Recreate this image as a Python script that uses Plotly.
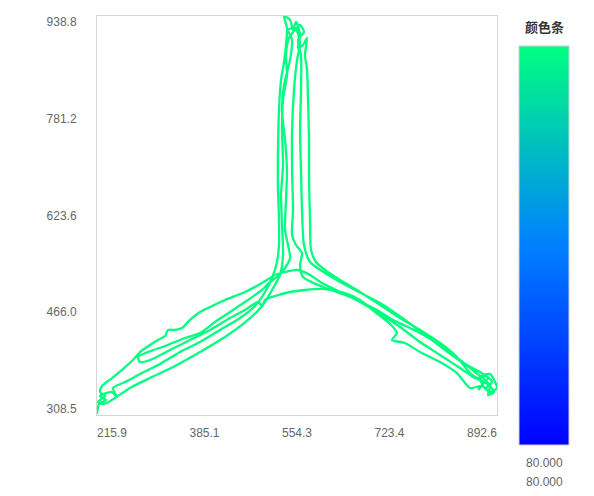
import plotly.graph_objects as go

# Trajectory (data units)
track_x = [
    215.9, 219.3, 231.1, 221.0, 241.3, 249.7, 243.0, 263.3, 288.7, 322.5, 356.3, 390.2, 424.0, 457.9, 483.2, 500.2,
    512.0, 520.4, 523.8, 523.8, 522.1, 522.1, 523.8, 527.2, 532.3, 535.6, 537.3, 532.3, 542.5, 547.5, 552.6, 559.4,
    556.0, 564.4, 571.2, 567.8,
    571.2, 572.9, 574.6, 574.6, 576.3, 578.0, 586.4, 601.7, 627.1, 660.9, 694.7, 728.6, 762.4, 796.3, 824.9, 847.0,
    860.5, 874.0, 884.1, 872.3, 863.9, 880.9, 887.6, 892.6,
    880.9, 867.2, 847.0, 824.9, 796.3, 762.4, 737.0, 715.0, 723.4, 711.7, 686.2, 660.9, 635.5, 601.7, 567.8, 542.5,
    517.1, 500.2, 495.0, 488.3, 466.3, 440.9, 407.1, 373.3, 339.4, 305.6, 288.7, 285.3, 302.2, 331.0, 364.8, 390.2,
    415.6, 440.9, 466.3, 495.0, 508.6, 522.1, 534.0, 542.5, 539.1, 534.0, 535.6, 537.3, 534.0, 528.9, 532.3, 542.5,
    545.9, 539.1,
    550.9, 559.4, 554.3, 549.2, 545.9, 545.9, 547.5, 545.9, 552.6, 562.7, 559.4, 564.4, 598.2, 644.0, 689.6, 716.7,
    745.5, 762.4, 796.3, 830.1, 855.4, 872.3, 880.9, 877.4, 887.6,
    874.0, 855.4, 830.1, 796.3, 762.4, 728.6, 694.7, 660.9, 627.1, 596.5, 576.3, 555.9, 534.0, 517.1, 495.0, 466.3,
    432.5, 407.1, 390.2, 373.3, 359.7, 347.9, 336.0, 331.0, 319.1, 305.6, 288.7, 276.8, 261.6, 241.3, 224.4, 221.0,
    229.4, 217.6,
    227.7, 246.4, 271.7, 305.6, 347.9, 390.2, 432.5, 471.4, 496.7, 512.0, 525.5, 530.6, 528.9, 527.2, 530.6, 528.9,
    530.6, 537.3, 535.6, 540.7, 550.9, 559.4, 566.1, 556.0, 561.0, 561.0, 559.4, 561.0, 562.7, 566.1, 576.3, 610.1,
    652.4, 694.7, 737.0, 770.8, 804.6, 838.5, 863.9, 877.4, 868.9, 860.5,
]
track_y = [
    310.0, 325.9, 332.2, 338.5, 344.8, 336.9, 351.2, 360.6, 373.3, 389.1, 408.0, 423.8, 442.8, 461.7, 480.7, 502.8,
    524.9, 550.2, 577.0, 616.6, 664.0, 727.2, 790.4, 837.8, 866.1, 893.0, 919.8, 938.8, 932.6, 916.8, 929.3, 908.8,
    888.3, 893.0, 904.1, 877.2,
    853.6, 806.2, 743.0, 679.8, 616.6, 569.2, 550.2, 537.6, 521.8, 502.8, 482.3, 461.7, 442.8, 422.2, 400.1, 374.8,
    366.9, 370.1, 360.6, 351.2, 368.5, 373.3, 363.8, 351.2,
    344.8, 354.3, 351.2, 374.8, 392.2, 408.0, 422.2, 427.0, 438.0, 452.3, 471.2, 490.2, 501.2, 507.5, 506.0, 502.8,
    496.5, 490.2, 480.7, 487.0, 474.4, 461.7, 442.8, 427.0, 411.2, 395.4, 392.2, 400.1, 408.0, 417.5, 430.1, 438.0,
    455.4, 471.2, 487.0, 506.0, 518.6, 528.1, 540.7, 556.5, 577.0, 600.8, 648.2, 695.6, 743.0, 790.4, 829.8, 869.4,
    901.0, 916.8,
    919.8, 897.7, 869.4, 822.0, 758.8, 695.6, 632.4, 592.8, 577.0, 564.4, 545.5, 526.5, 510.7, 494.9, 474.4, 458.6,
    445.9, 438.0, 419.1, 395.4, 376.4, 363.8, 354.3, 340.1, 344.8,
    359.1, 366.9, 382.7, 403.3, 423.8, 447.5, 468.0, 487.0, 502.8, 517.0, 529.7, 537.6, 534.4, 529.7, 517.0, 502.8,
    490.2, 479.1, 471.2, 458.6, 445.9, 442.8, 442.8, 433.3, 427.0, 419.1, 408.0, 395.4, 382.7, 366.9, 354.3, 344.8,
    338.5, 329.0,
    325.9, 335.4, 351.2, 366.9, 385.9, 408.0, 431.7, 458.6, 482.3, 506.0, 529.7, 561.3, 608.6, 656.0, 703.4, 758.8,
    806.2, 845.6, 877.2, 904.1, 916.8, 924.6, 913.5, 901.0, 877.2, 822.0, 758.8, 695.6, 632.4, 577.0, 550.2, 528.1,
    506.0, 485.4, 458.6, 434.9, 411.2, 389.1, 376.4, 366.9, 357.5, 348.0,
]
track_value = [80.0] * len(track_x)

x_tick_labels = ["215.9", "385.1", "554.3", "723.4", "892.6"]
y_tick_labels = ["308.5", "466.0", "623.6", "781.2", "938.8"]
colorbar_title = "颜色条"
value_min_label = "80.000"
value_max_label = "80.000"

x_min, x_max = 215.9, 892.6
y_min, y_max = 308.5, 938.8

colorscale = [[0.0, "#0000ff"], [0.5, "#0080ff"], [1.0, "#00ff80"]]
line_color = colorscale[-1][1]  # all values equal -> top colour

FONT = "Liberation Sans, Arial, Noto Sans CJK SC, sans-serif"

# page body adds an 8px offset; plot area targets (left 97, top 16, 400x399)
OFF = 8
L, T, W, H = 97 - OFF, 16 - OFF, 400, 399

fig = go.Figure()
fig.add_trace(go.Scatter(
    x=track_x, y=track_y, mode="lines",
    line=dict(color=line_color, width=2.3, shape="spline", smoothing=0.7),
    hoverinfo="skip", showlegend=False,
))
# colour bar carrier
fig.add_trace(go.Scatter(
    x=[None], y=[None], mode="markers", showlegend=False,
    marker=dict(
        color=[track_value[0]], colorscale=colorscale, cmin=79.0, cmax=81.0,
        showscale=True,
        colorbar=dict(
            x=(519 - 97) / W, xanchor="left", xpad=0,
            y=(415 - 46) / H, yanchor="top", ypad=0,
            thickness=50, thicknessmode="pixels",
            len=399, lenmode="pixels",
            outlinewidth=1, outlinecolor="#d0d0d0",
            showticklabels=False, ticks="",
        ),
    ),
))

xf = [0.0375 + 0.23125 * i for i in range(5)]
yf = [0.015 + 0.2425 * i for i in range(5)]

fig.update_xaxes(
    range=[x_min, x_max], showgrid=False, zeroline=False,
    tickvals=[x_min + f * (x_max - x_min) for f in xf], ticktext=x_tick_labels,
    ticks="", tickfont=dict(size=12, color="#666", family=FONT),
    showline=True, mirror=True, linecolor="#d6d6d6", linewidth=1,
    ticklabelstandoff=7,
)
fig.update_yaxes(
    range=[y_min, y_max], showgrid=False, zeroline=False,
    tickvals=[y_min + f * (y_max - y_min) for f in yf], ticktext=y_tick_labels,
    ticks="", tickfont=dict(size=12, color="#666", family=FONT),
    showline=True, mirror=True, linecolor="#d6d6d6", linewidth=1,
    ticklabelstandoff=17,
)

fig.add_annotation(
    text="<b>" + colorbar_title + "</b>", xref="paper", yref="paper",
    x=(544 - 97) / W, y=(415 - 27) / H, showarrow=False,
    font=dict(size=13, color="#333", family=FONT), xanchor="center", yanchor="middle",
)
fig.add_annotation(
    text=value_min_label, xref="paper", yref="paper",
    x=(544 - 97) / W, y=(415 - 463) / H, showarrow=False,
    font=dict(size=12, color="#666", family=FONT), xanchor="center", yanchor="middle",
)
fig.add_annotation(
    text=value_max_label, xref="paper", yref="paper",
    x=(544 - 97) / W, y=(415 - 482) / H, showarrow=False,
    font=dict(size=12, color="#666", family=FONT), xanchor="center", yanchor="middle",
)

fig.update_layout(
    width=594, height=496,
    margin=dict(l=L, r=594 - L - W, t=T, b=496 - T - H),
    paper_bgcolor="white", plot_bgcolor="white",
    font=dict(family=FONT),
)
fig.write_html("out.html")
